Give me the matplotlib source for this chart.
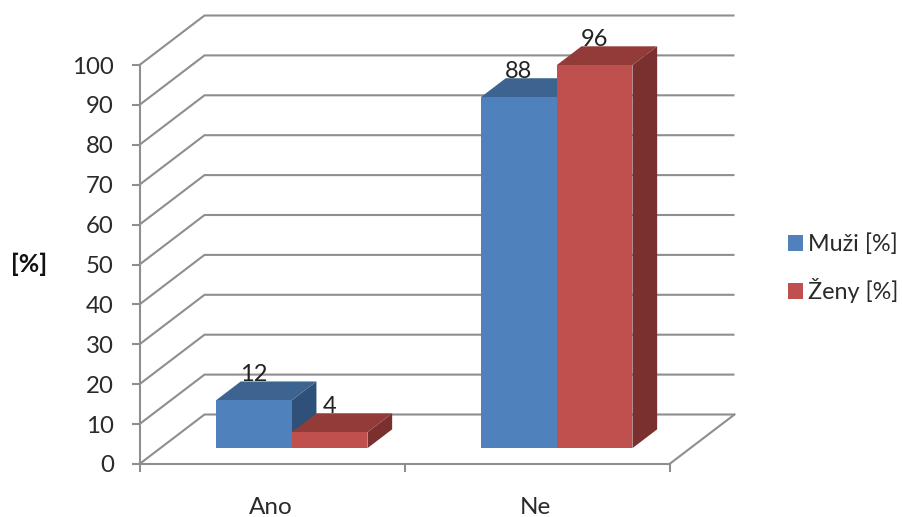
import matplotlib
matplotlib.use("Agg")
import matplotlib.pyplot as plt
from matplotlib.patches import Patch

categories = ["Ano", "Ne"]
muzi = [12, 88]
zeny = [4, 96]
series_names = ["Muži [%]", "Ženy [%]"]
y_ticks = list(range(0, 101, 10))

W, H = 902, 517
plt.rcParams["font.family"] = ["Lato", "DejaVu Sans"]
fig = plt.figure(figsize=(W / 100, H / 100), dpi=100)

# front plane of the chart in pixels
L, R, B, T = 139.5, 669.5, 464, 65
ax = fig.add_axes([L / W, 1 - B / H, (R - L) / W, (B - T) / H])
ax.set_xlim(0, len(categories))
ax.set_ylim(0, 100)
ax.patch.set_alpha(0)

px_x = (R - L) / len(categories)
px_y = (B - T) / 100
DX = 65 / px_x     # full depth, category units
DY = 49.5 / px_y   # full depth, value units


def proj(x, v, d):
    return x + d * DX, v + d * DY


GRID = "#8e8e8e"
LW = 1.5
for v in y_ticks:
    p = [proj(0, v, 0), proj(0, v, 1), proj(len(categories), v, 1)]
    ax.plot(*zip(*p), color=GRID, lw=LW, clip_on=False, zorder=1, solid_capstyle="butt")
ax.plot(*zip(proj(2, 0, 0), proj(2, 0, 1)), color=GRID, lw=LW, clip_on=False, zorder=1)

for s in ["top", "right"]:
    ax.spines[s].set_visible(False)
for s in ["left", "bottom"]:
    ax.spines[s].set_color(GRID)
    ax.spines[s].set_linewidth(LW)
ax.set_yticks(y_ticks)
ax.set_xticks(range(len(categories) + 1))
ax.set_xticklabels([])
ax.set_xticks([i + 0.494 for i in range(len(categories))], categories, minor=True)
ax.tick_params(axis="x", which="major", length=6, width=LW, color=GRID)
ax.tick_params(axis="x", which="minor", length=0, labelsize=17.5, pad=24, labelcolor="#2a2a2a")
ax.tick_params(axis="y", length=6, width=LW, color=GRID, labelsize=17.3, pad=12.5, labelcolor="#2a2a2a")

BAR_W = 1 / 3.5
D0, D1 = 0.32, 0.70
COLORS = [("#4F81BD", "#3D6390", "#2F5079"), ("#C0504D", "#933B39", "#7A302E")]


def box(x0, v, cols):
    x1 = x0 + BAR_W
    front, top, side = cols
    ax.fill(*zip(proj(x1, 0, D0), proj(x1, 0, D1), proj(x1, v, D1), proj(x1, v, D0)),
            color=side, lw=0, zorder=3, clip_on=False)
    ax.fill(*zip(proj(x0, v, D0), proj(x1, v, D0), proj(x1, v, D1), proj(x0, v, D1)),
            color=top, lw=0, zorder=3, clip_on=False)
    ax.fill(*zip(proj(x0, 0, D0), proj(x1, 0, D0), proj(x1, v, D0), proj(x0, v, D0)),
            color=front, lw=0, zorder=3, clip_on=False)
    lx, ly = proj(x0 + BAR_W / 2, v, D0)
    ax.annotate(str(v), (lx, ly), xytext=(0, 18.5), textcoords="offset points",
                ha="center", va="center", fontsize=17, color="#222222", zorder=6,
                annotation_clip=False)


for i in range(len(categories)):
    left = i + (1 - 2 * BAR_W) / 2 - 0.004
    for j, vals in enumerate([muzi, zeny]):
        box(left + j * BAR_W, vals[i], COLORS[j])

fig.text(29 / W, 1 - 264.5 / H, "[%]", fontsize=18, fontweight="bold",
         color="#111111", ha="center", va="center")

handles = [Patch(facecolor=COLORS[0][0], edgecolor="none"),
           Patch(facecolor=COLORS[1][0], edgecolor="none")]
fig.legend(handles, series_names, loc="center left", bbox_to_anchor=(783 / W, 1 - 268.5 / H),
           frameon=False, fontsize=16.8, handlelength=0.65, handleheight=0.65,
           handletextpad=0.2, labelspacing=1.0, labelcolor="#2a2a2a",
           borderpad=0.2, borderaxespad=0)

fig.savefig("out.png", dpi=100, facecolor="white")
